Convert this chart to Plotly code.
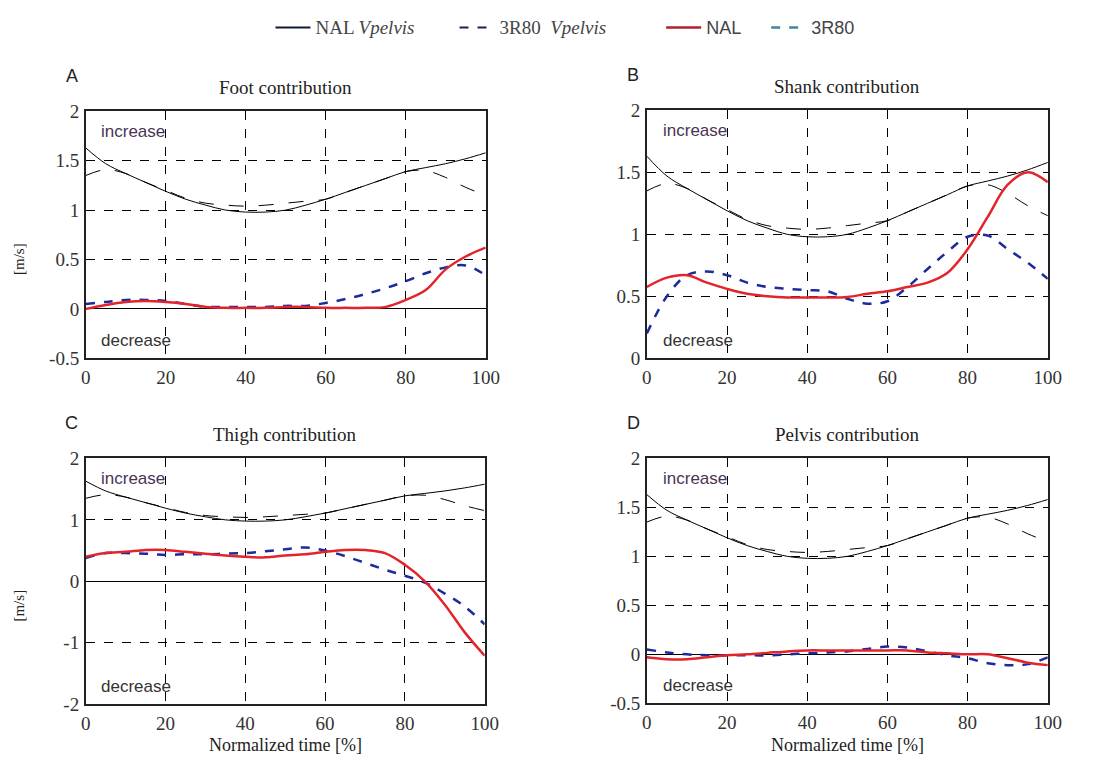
import plotly.graph_objects as go

# page is photographed with an 8px body margin, so the figure is drawn 16px smaller
W, H = 1100, 753
OFF = 8

# common time axis (normalized time, %)
t = [0, 5, 10, 15, 20, 25, 30, 35, 40, 45, 50, 55, 60, 65, 70, 75, 80, 85, 90, 95, 100]

# pelvis velocity references (same in every panel)
nal_vpelvis = [1.63, 1.47, 1.37, 1.28, 1.19, 1.11, 1.05, 1.00, 0.98, 0.98, 1.00, 1.05, 1.11, 1.18, 1.25, 1.32, 1.39, 1.43, 1.47, 1.52, 1.58]
r80_vpelvis = [1.35, 1.41, 1.37, 1.28, 1.20, 1.12, 1.07, 1.05, 1.04, 1.05, 1.07, 1.09, 1.11, 1.18, 1.25, 1.32, 1.39, 1.40, 1.33, 1.23, 1.15]

# segment contributions
foot_nal = [0.00, 0.04, 0.07, 0.08, 0.07, 0.05, 0.02, 0.01, 0.01, 0.01, 0.02, 0.02, 0.01, 0.01, 0.01, 0.02, 0.09, 0.19, 0.40, 0.53, 0.62]
foot_3r80 = [0.05, 0.07, 0.09, 0.09, 0.08, 0.05, 0.02, 0.02, 0.02, 0.02, 0.03, 0.03, 0.06, 0.10, 0.15, 0.21, 0.28, 0.36, 0.42, 0.44, 0.34]

shank_nal = [0.575, 0.65, 0.67, 0.61, 0.56, 0.52, 0.50, 0.49, 0.49, 0.49, 0.495, 0.52, 0.54, 0.575, 0.61, 0.69, 0.88, 1.14, 1.40, 1.50, 1.42]
shank_3r80 = [0.20, 0.50, 0.67, 0.70, 0.67, 0.61, 0.575, 0.56, 0.55, 0.54, 0.48, 0.44, 0.46, 0.575, 0.72, 0.86, 0.98, 0.99, 0.88, 0.77, 0.64]

thigh_nal = [0.40, 0.46, 0.48, 0.51, 0.51, 0.48, 0.45, 0.42, 0.40, 0.39, 0.42, 0.44, 0.48, 0.51, 0.51, 0.46, 0.27, 0.00, -0.38, -0.83, -1.21]
thigh_3r80 = [0.38, 0.46, 0.46, 0.45, 0.43, 0.44, 0.44, 0.45, 0.46, 0.49, 0.52, 0.55, 0.50, 0.41, 0.30, 0.19, 0.09, -0.02, -0.20, -0.41, -0.70]

pelvis_nal = [-0.03, -0.05, -0.05, -0.03, -0.01, 0.00, 0.015, 0.03, 0.04, 0.04, 0.04, 0.04, 0.04, 0.04, 0.02, 0.01, 0.00, 0.00, -0.04, -0.085, -0.11]
pelvis_3r80 = [0.05, 0.02, 0.00, -0.01, -0.01, -0.01, -0.01, 0.00, 0.01, 0.02, 0.03, 0.055, 0.08, 0.07, 0.03, -0.01, -0.04, -0.09, -0.11, -0.10, -0.03]

titles = ["Foot contribution", "Shank contribution", "Thigh contribution", "Pelvis contribution"]
letters = ["A", "B", "C", "D"]
panels = [(foot_nal, foot_3r80), (shank_nal, shank_3r80), (thigh_nal, thigh_3r80), (pelvis_nal, pelvis_3r80)]
y_ranges = [[-0.5, 2], [0, 2], [-2, 2], [-0.5, 2]]
y_tickvals = [[-0.5, 0, 0.5, 1, 1.5, 2], [0, 0.5, 1, 1.5, 2], [-2, -1, 0, 1, 2], [-0.5, 0, 0.5, 1, 1.5, 2]]
y_ticktext = [["-0.5", "0", "0.5", "1", "1.5", "2"], ["0", "0.5", "1", "1.5", "2"],
              ["-2", "-1", "0", "1", "2"], ["-0.5", "0", "0.5", "1", "1.5", "2"]]
x_ticks = [0, 20, 40, 60, 80, 100]

# screen-pixel boxes of the plot areas (left, right, top, bottom)
boxes = [(82, 489, 104, 358), (653, 1061, 103, 358), (82, 488, 461, 714), (653, 1061, 461, 713)]

RED = "#e3242b"
BLUE = "#1c2a9c"
SERIF = "Liberation Serif, Times New Roman, serif"
SANS = "Liberation Sans, Arial, sans-serif"

fig = go.Figure()
layout = dict(width=W, height=H, margin=dict(l=0, r=0, t=0, b=0),
              paper_bgcolor="white", plot_bgcolor="white", showlegend=True)
annotations = []


def px(x):
    return (x - OFF) / W


def py(y):
    return 1 - (y - OFF) / H


def label(text, x, y, font, xanchor="center", textangle=0):
    annotations.append(dict(text=text, x=px(x), y=py(y), xref="paper", yref="paper",
                            xanchor=xanchor, yanchor="middle", textangle=textangle,
                            showarrow=False, font=font))


for i in range(4):
    xa = "x" if i == 0 else f"x{i+1}"
    ya = "y" if i == 0 else f"y{i+1}"
    l, r, tp, bt = boxes[i]
    nal, r80 = panels[i]
    fig.add_trace(go.Scatter(x=t, y=nal_vpelvis, xaxis=xa, yaxis=ya, mode="lines",
                             line=dict(color="black", width=1, shape="spline"), showlegend=False, hoverinfo="skip"))
    fig.add_trace(go.Scatter(x=t, y=r80_vpelvis, xaxis=xa, yaxis=ya, mode="lines",
                             line=dict(color="black", width=1, dash="longdash", shape="spline"), showlegend=False, hoverinfo="skip"))
    fig.add_trace(go.Scatter(x=t, y=r80, xaxis=xa, yaxis=ya, mode="lines",
                             line=dict(color=BLUE, width=2.5, dash="dash", shape="spline"), showlegend=False))
    fig.add_trace(go.Scatter(x=t, y=nal, xaxis=xa, yaxis=ya, mode="lines",
                             line=dict(color=RED, width=2.5, shape="spline"), showlegend=False))

    key_x = "xaxis" if i == 0 else f"xaxis{i+1}"
    key_y = "yaxis" if i == 0 else f"yaxis{i+1}"
    layout[key_x] = dict(domain=[px(l), px(r)], anchor=ya, range=[0, 100], tickvals=x_ticks,
                         showgrid=True, gridcolor="black", griddash="dash", gridwidth=1,
                         showline=True, mirror=True, linecolor="#222", linewidth=1.5,
                         zeroline=False, ticks="", ticklabelstandoff=1,
                         tickfont=dict(family=SERIF, size=19, color="#333"))
    layout[key_y] = dict(domain=[py(bt), py(tp)], anchor=xa, range=y_ranges[i],
                         tickvals=y_tickvals[i], ticktext=y_ticktext[i],
                         showgrid=True, gridcolor="black", griddash="dash", gridwidth=1,
                         showline=True, mirror=True, linecolor="#222", linewidth=1.5,
                         zeroline=True, zerolinecolor="black", zerolinewidth=1.2,
                         ticks="", ticklabelstandoff=1,
                         tickfont=dict(family=SERIF, size=19, color="#333"))
    cx = (l + r) / 2
    label(titles[i], cx, tp - 25, dict(family=SERIF, size=19, color="#222"))
    label(letters[i], l - 14, tp - 36, dict(family=SANS, size=18, color="#222"))
    label("increase", l + 14, tp + 21, dict(family=SANS, size=17, color="#4a3456"), xanchor="left")
    label("decrease", l + 14, bt - 18, dict(family=SANS, size=17, color="#333"), xanchor="left")
    if i >= 2:
        label("Normalized time [%]", cx, 756, dict(family=SERIF, size=18, color="#222"))
    if i in (0, 2):
        label("[m/s]", 14, (tp + bt) / 2 + 25, dict(family=SERIF, size=15, color="#222"), textangle=-90)

# legend entries
NB = "&nbsp;"
SERIF_SPAN = "<span style='font-family:Liberation Serif;font-size:19px'>{}</span>"
fig.add_trace(go.Scatter(x=[None], y=[None], mode="lines", line=dict(color="#111a33", width=2),
                         name=SERIF_SPAN.format("NAL <i>Vpelvis</i>") + NB * 7))
fig.add_trace(go.Scatter(x=[None], y=[None], mode="lines", line=dict(color="#1a2250", width=2, dash="dash"),
                         name=SERIF_SPAN.format("3R80" + NB + " <i>Vpelvis</i>") + NB * 10))
fig.add_trace(go.Scatter(x=[None], y=[None], mode="lines", line=dict(color="#b02030", width=2.5),
                         name="NAL" + NB * 4))
fig.add_trace(go.Scatter(x=[None], y=[None], mode="lines", line=dict(color="#3a8a9a", width=2.5, dash="dash"),
                         name="3R80"))

layout["legend"] = dict(orientation="h", x=px(270), xanchor="left", y=py(18), yanchor="middle",
                        font=dict(family=SANS, size=18, color="#444"), itemwidth=35,
                        bgcolor="rgba(0,0,0,0)")
layout["annotations"] = annotations
fig.update_layout(**layout)

fig.write_html("out.html")
